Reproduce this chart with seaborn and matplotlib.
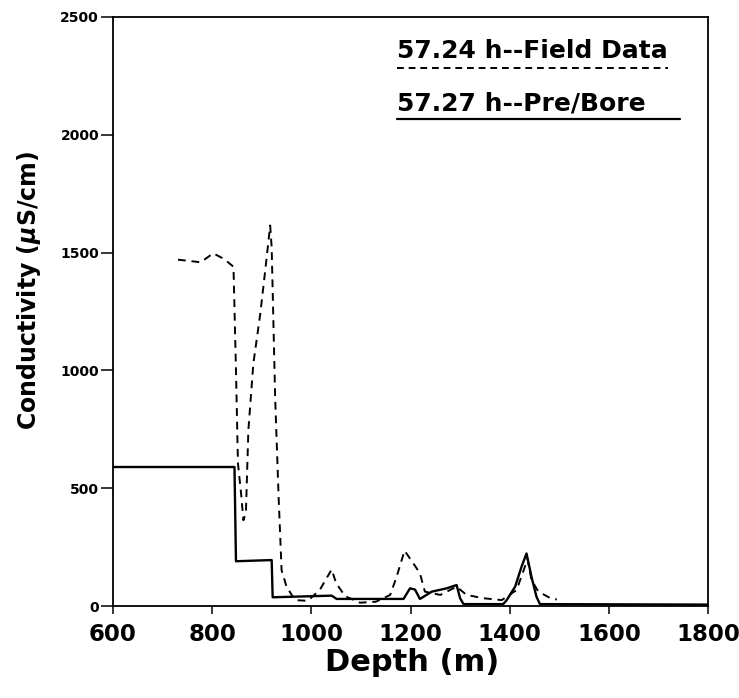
import numpy as np
import pandas as pd
import matplotlib
matplotlib.use("Agg")
import matplotlib.pyplot as plt
import seaborn as sns

# ---- data ----
field_depth = [731, 777, 802, 824, 843, 848, 852, 859, 863, 868, 873, 883, 897, 907,
               917, 920, 927, 934, 940, 950, 967, 993, 1017, 1041, 1050, 1068, 1098,
               1130, 1159, 1172, 1188, 1206, 1219, 1229, 1260, 1293, 1313, 1347, 1384,
               1414, 1428, 1436, 1444, 1458, 1485, 1495]
field_cond = [1470, 1459, 1497, 1473, 1440, 1000, 606, 463, 364, 394, 746, 1028, 1240, 1424,
              1615, 1522, 887, 463, 152, 82, 25, 22, 68, 155, 97, 42, 14,
              18, 47, 124, 235, 180, 139, 61, 47, 82, 47, 33, 25,
              68, 150, 200, 110, 61, 30, 28]

model_depth = [600, 845, 848, 920, 922, 1041, 1051, 1186, 1199, 1209, 1219, 1243, 1273,
               1293, 1300, 1307, 1387, 1394, 1411, 1424, 1434, 1444, 1454, 1461, 1800]
model_cond = [590, 590, 190, 195, 37, 44, 30, 30, 75, 70, 30, 61, 75,
              89, 33, 8, 8, 25, 82, 167, 223, 124, 40, 8, 6]

x_ticks = [600, 800, 1000, 1200, 1400, 1600, 1800]
y_ticks = [0, 500, 1000, 1500, 2000, 2500]
legend_labels = ["57.24 h--Field Data", "57.27 h--Pre/Bore"]

field_df = pd.DataFrame({"depth": field_depth, "cond": field_cond})
model_df = pd.DataFrame({"depth": model_depth, "cond": model_cond})

sns.set_style("ticks")
plt.rcParams["font.family"] = ["DejaVu Sans"]
plt.rcParams["font.weight"] = "bold"
plt.rcParams["text.color"] = "black"
plt.rcParams["axes.labelcolor"] = "black"
plt.rcParams["xtick.color"] = "black"
plt.rcParams["ytick.color"] = "black"

fig = plt.figure(figsize=(7.39, 6.98), dpi=100)
ax = fig.add_axes([113 / 739, 1 - 606 / 698, 595 / 739, 589 / 698])

sns.lineplot(data=field_df, x="depth", y="cond", ax=ax, color="black",
             estimator=None, linewidth=1.4, dashes=False)
ax.lines[-1].set_dashes((4, 3))
sns.lineplot(data=model_df, x="depth", y="cond", ax=ax, color="black",
             estimator=None, linewidth=1.7)

ax.set_xlim(600, 1800)
ax.set_ylim(0, 2500)
ax.set_xticks(x_ticks)
ax.set_yticks(y_ticks)
ax.set_xticklabels([str(v) for v in x_ticks], fontsize=16.5, fontweight="bold")
ax.set_yticklabels([str(v) for v in y_ticks], fontsize=10, fontweight="bold")
ax.tick_params(axis="x", direction="out", length=6, width=1.1, pad=6)
ax.tick_params(axis="y", direction="out", length=9, width=1.1, pad=1)

for s in ax.spines.values():
    s.set_visible(True)
    s.set_linewidth(1.3)
    s.set_color("black")

ax.set_xlabel("Depth (m)", fontsize=22, fontweight="bold")
ax.xaxis.set_label_coords(0.503, -0.071)
ax.set_ylabel("Conductivity ($\\mu$S/cm)", fontsize=17, fontweight="bold")
ax.yaxis.set_label_coords(-0.117, 0.536)

# legend drawn as underlined labels (as in the reference)
ax.text(0.478, 0.930, legend_labels[0], transform=ax.transAxes, fontsize=18,
        fontweight="bold", ha="left", va="baseline", color="black")
ax.plot([0.478, 0.932], [0.913, 0.913], transform=ax.transAxes, color="black",
        linewidth=1.4, dashes=(3.5, 2.5))
ax.text(0.478, 0.841, legend_labels[1], transform=ax.transAxes, fontsize=18,
        fontweight="bold", ha="left", va="baseline", color="black")
ax.plot([0.478, 0.953], [0.826, 0.826], transform=ax.transAxes, color="black",
        linewidth=1.6)

fig.savefig("out.png", dpi=100)
